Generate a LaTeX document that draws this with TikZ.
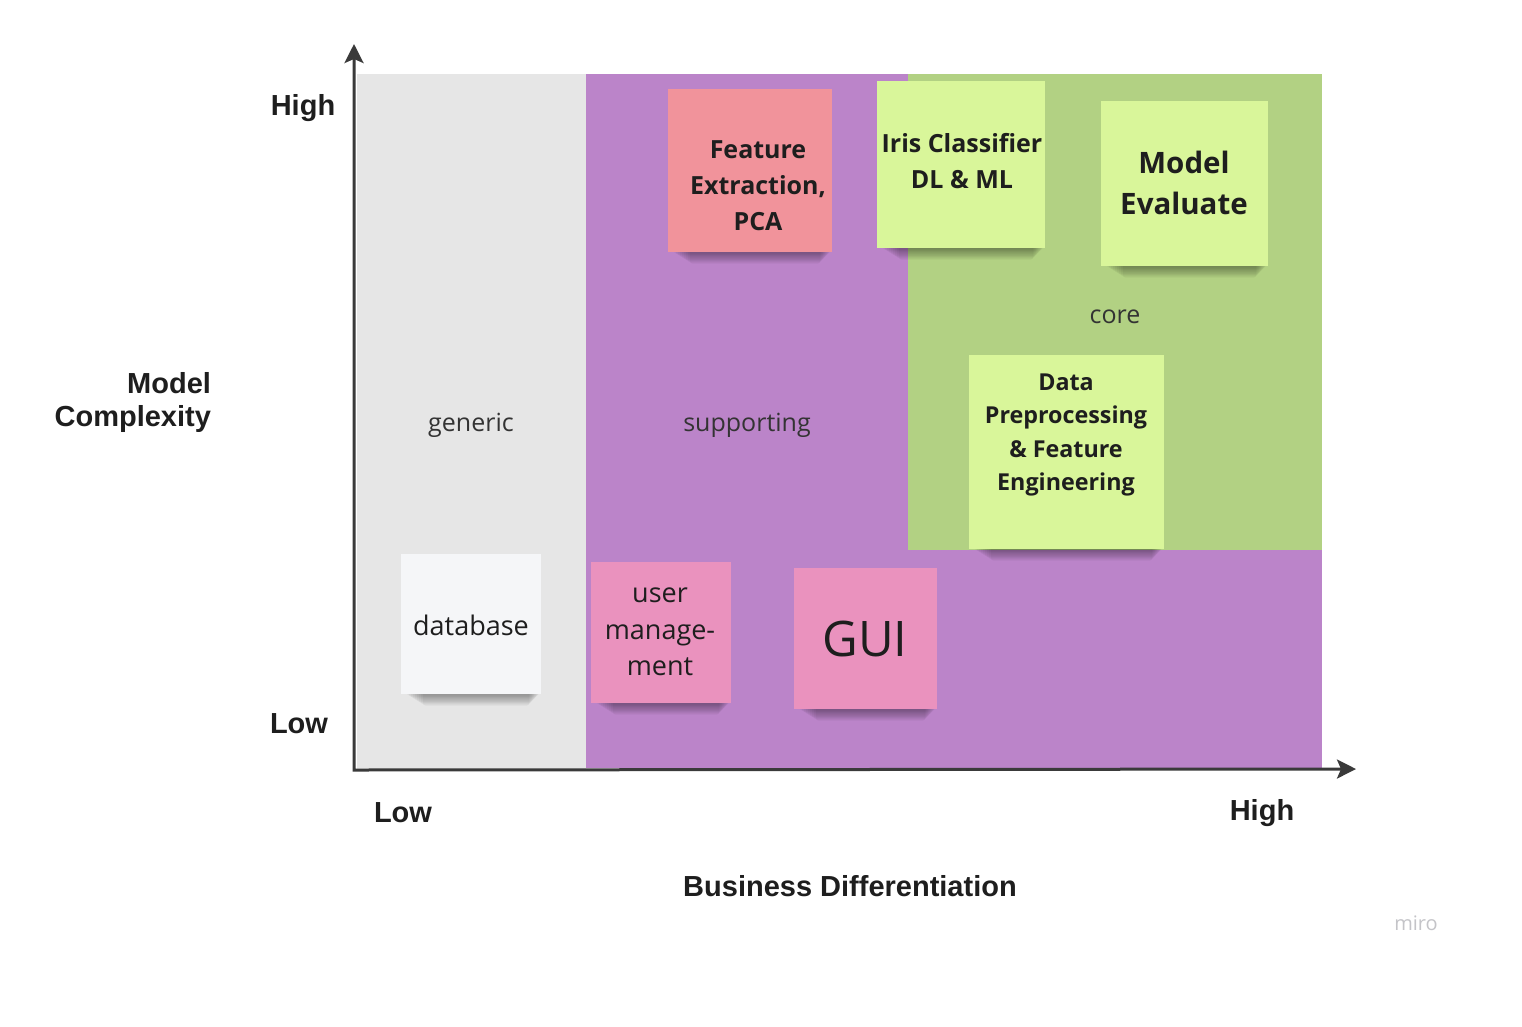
\documentclass[tikz,border=0pt]{standalone}
\usepackage{fontspec}
\setmainfont{Open Sans}
\newfontfamily\axisfont{Liberation Sans}
\usetikzlibrary{calc,arrows.meta}

\definecolor{regiongray}{HTML}{E6E6E6}
\definecolor{regionpurple}{HTML}{BB84C9}
\definecolor{regiongreen}{HTML}{B2D183}
\definecolor{axisgray}{HTML}{3A3A3A}
\definecolor{notesalmon}{HTML}{F1939B}
\definecolor{notelime}{HTML}{D9F69A}
\definecolor{notepink}{HTML}{EA92BE}
\definecolor{notewhite}{HTML}{F5F6F8}
\definecolor{inktext}{HTML}{1E1E1E}
\definecolor{regiontext}{HTML}{333333}
\definecolor{logogray}{HTML}{C4C4C8}

\pgfdeclarelayer{regions}
\pgfdeclarelayer{shade}
\pgfsetlayers{regions,shade,main}

\tikzset{
  note/.style={rectangle, inner sep=0pt},
  notetext/.style={inner sep=0pt, align=center, text=inktext},
  regionlabel/.style={text=regiontext, font=\fontsize{25}{30}\selectfont},
  axislabel/.style={text=inktext, font=\axisfont\bfseries\fontsize{29}{33}\selectfont, align=center},
  axisline/.style={draw=axisgray, line width=3pt, line join=miter,
    {Stealth[length=19pt,width=19pt,inset=4pt]}-{Stealth[length=19pt,width=19pt,inset=4pt]}},
}

% soft shadow along the lower edge of a sticky note
\newcommand{\noteshadow}[1]{%
  \foreach \k in {1,...,9}{%
    \fill[black, opacity=0.045, rounded corners=3pt]
      ($(#1.south west)+(4+2*\k,-4)$) rectangle ($(#1.south east)+(-1-1.2*\k,0.2+1.25*\k)$);
  }%
}

\begin{document}
\begin{tikzpicture}[x=1pt,y=-1pt]
\useasboundingbox (0,0) rectangle (1522,1026);

% background regions
\begin{pgfonlayer}{regions}
  \fill[white]        (0,0)     rectangle (1522,1026);
  \fill[regiongray]   (357,74)  rectangle (586,770);
  \fill[regionpurple] (586,74)  rectangle (1322,768);
  \fill[regiongreen]  (908,74)  rectangle (1322,550);
\end{pgfonlayer}

% region names
\node[regionlabel] (generic) at (471,425) {generic};
\node[regionlabel] (supporting) at (747,425) {supporting};
\node[regionlabel] (core) at (1115,317) {core};

% sticky notes
\node[note, fill=notesalmon, minimum width=164, minimum height=163] (fe) at (750,170.5) {};
\node[note, fill=notelime,   minimum width=168, minimum height=167] (iris) at (961,164.5) {};
\node[note, fill=notelime,   minimum width=167, minimum height=165] (eval) at (1184.5,183.5) {};
\node[note, fill=notelime,   minimum width=195, minimum height=194] (prep) at (1066.5,452) {};
\node[note, fill=notewhite,  minimum width=140, minimum height=140] (db) at (471,624) {};
\node[note, fill=notepink,   minimum width=140, minimum height=141] (user) at (661,632.5) {};
\node[note, fill=notepink,   minimum width=143, minimum height=141] (gui) at (865.5,638.5) {};

% texts written on the notes
\node[notetext, font=\bfseries\fontsize{25}{36}\selectfont] (fe-text) at (758,186)
  {Feature\\Extraction,\\PCA};
\node[notetext, font=\bfseries\fontsize{25}{36}\selectfont] (iris-text) at (962,161)
  {Iris Classifier\\DL \& ML};
\node[notetext, font=\bfseries\fontsize{29.5}{41}\selectfont] (eval-text) at (1184,183)
  {Model\\Evaluate};
\node[notetext, font=\bfseries\fontsize{23.3}{33.5}\selectfont] (prep-text) at (1066,435)
  {Data\\Preprocessing\\\& Feature\\Engineering};
\node[notetext, font=\fontsize{27}{36}\selectfont] (db-text) at (471,625)
  {database};
\node[notetext, font=\fontsize{27}{36.5}\selectfont] (user-text) at (660,632)
  {user\\manage-\\ment};
\node[notetext, font=\fontsize{49}{56}\selectfont] (gui-text) at (865,639)
  {GUI};

\begin{pgfonlayer}{shade}
  \noteshadow{fe}
  \noteshadow{iris}
  \noteshadow{eval}
  \noteshadow{prep}
  \noteshadow{db}
  \noteshadow{user}
  \noteshadow{gui}
\end{pgfonlayer}

% axes
\coordinate (ytop) at (354,44);
\coordinate (origin) at (354,770);
\coordinate (xend) at (1356,769);
\draw[axisline] (ytop) -- (origin) -- (xend);

% axis labels
\node[axislabel] (yhigh) at (303,108) {High};
\node[axislabel] (ylow) at (299,724) {Low};
\node[axislabel, align=right, anchor=east] (ytitle) at (214.5,402) {Model\\Complexity};
\node[axislabel] (xlow) at (403,813) {Low};
\node[axislabel] (xhigh) at (1262,813) {High};
\node[axislabel] (xtitle) at (850,886) {Business Differentiation};

% logo
\node[text=logogray, font=\fontsize{20}{24}\selectfont] (logo) at (1416,923) {miro};
\end{tikzpicture}
\end{document}
